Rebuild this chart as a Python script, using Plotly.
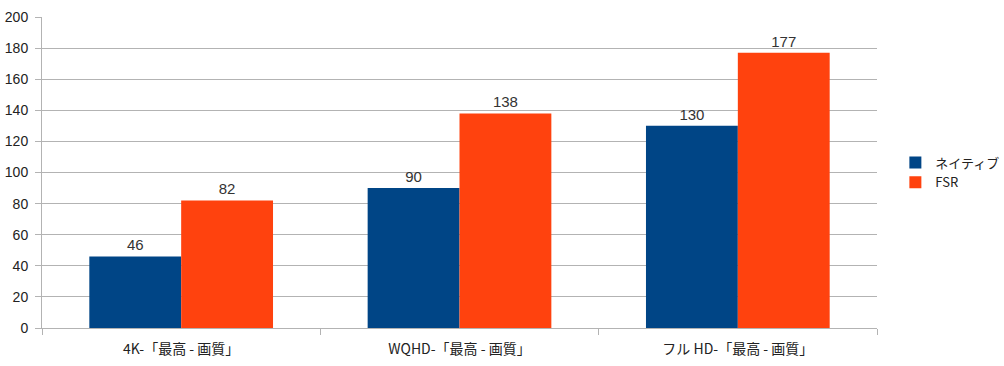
import plotly.graph_objects as go

categories = ["4K-「最高 - 画質」", "WQHD-「最高 - 画質」", "フル HD-「最高 - 画質」"]
native = [46, 90, 130]
fsr = [82, 138, 177]
series_names = ["ネイティブ", "FSR"]
colors = ["#004586", "#ff420e"]

font_family = "Liberation Sans, Arial, Noto Sans CJK JP, sans-serif"
cjk_family = "Noto Sans CJK JP, Liberation Sans, sans-serif"

fig = go.Figure()
for name, vals, col in zip(series_names, [native, fsr], colors):
    fig.add_trace(go.Bar(
        x=categories, y=vals, name=name, marker_color=col,
        marker_line_width=0,
        text=[str(v) for v in vals], textposition="outside",
        textfont=dict(size=15, color="#333333", family=font_family),
        cliponaxis=False,
    ))

fig.update_layout(
    width=1004, height=366,
    margin=dict(l=42, r=127, t=17, b=38, autoexpand=False),
    paper_bgcolor="white", plot_bgcolor="white",
    barmode="group", bargap=0.34, bargroupgap=0,
    font=dict(family=font_family, size=13, color="#222222"),
    showlegend=True,
    legend=dict(x=1.022, y=0.5, xanchor="left", yanchor="middle",
                font=dict(size=13, family=cjk_family),
                itemwidth=30, tracegroupgap=0, bgcolor="rgba(0,0,0,0)"),
)
fig.update_xaxes(
    showline=True, linecolor="#b3b3b3", linewidth=1,
    ticks="outside", ticklen=6, tickcolor="#b3b3b3",
    tickson="boundaries", automargin=False,
    ticklabelstandoff=8,
    tickfont=dict(size=14, family=cjk_family),
    showgrid=False,
)
fig.update_yaxes(
    range=[0, 200], dtick=20, automargin=False,
    showline=True, linecolor="#b3b3b3", linewidth=1,
    ticks="outside", ticklen=6, tickcolor="#b3b3b3",
    ticklabelstandoff=4,
    showgrid=True, gridcolor="#b3b3b3", gridwidth=1,
    zeroline=False,
    tickfont=dict(size=14),
)

fig.write_html(
    "out.html",
    config={"displayModeBar": False},
    post_script="document.body.style.margin='0px';document.body.style.overflow='hidden';",
)
